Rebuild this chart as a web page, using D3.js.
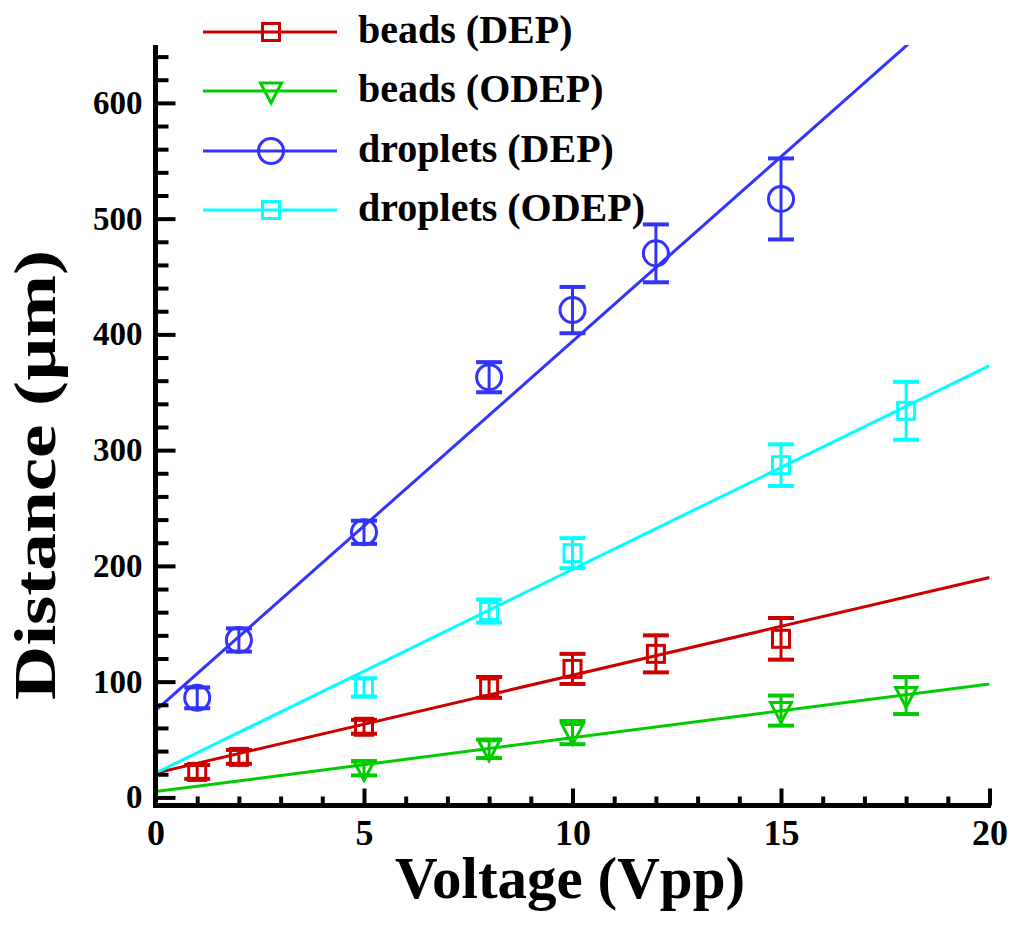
<!DOCTYPE html>
<html><head><meta charset="utf-8">
<script src="https://cdn.jsdelivr.net/npm/d3@7"></script>
<style>body{margin:0;background:#fff}svg{display:block}</style>
</head><body><svg id="c" width="1024" height="926"></svg>
<script>
// ---- data ----
const seriesNames = ["beads (DEP)", "beads (ODEP)", "droplets (DEP)", "droplets (ODEP)"];
const beadsDepX = [1, 2, 5, 8, 10, 12, 15];
const beadsDepY = [22, 35, 61, 95, 111, 124, 137];
const beadsDepErr = [6, 6, 6, 9, 13, 16, 18];
const beadsOdepX = [5, 8, 10, 15, 18];
const beadsOdepY = [25, 42, 56, 75, 88];
const beadsOdepErr = [6, 8, 10, 13, 16];
const dropDepX = [1, 2, 5, 8, 10, 12, 15];
const dropDepY = [86, 136, 229, 363, 421, 470, 517];
const dropDepErr = [9, 10, 10, 13, 20, 25, 35];
const dropOdepX = [5, 8, 10, 15, 18];
const dropOdepY = [95, 161, 211, 287, 334];
const dropOdepErr = [8, 10, 13, 18, 25];
// linear fit lines: end points at x = 0 and x = 20
const fitX = [0, 20];
const beadsDepFit = [21, 190];
const beadsOdepFit = [5, 98];
const dropDepFit = [75, 713];
const dropOdepFit = [21, 373];
const xTicksMajor = [0, 5, 10, 15, 20];
const yTicksMajor = [0, 100, 200, 300, 400, 500, 600];

const colors = ["#CC0000", "#00CC00", "#3333FF", "#00FFFF"];
const shapes = ["square", "triangle", "circle", "square"];

const series = [
  {x: beadsDepX, y: beadsDepY, e: beadsDepErr, fit: beadsDepFit},
  {x: beadsOdepX, y: beadsOdepY, e: beadsOdepErr, fit: beadsOdepFit},
  {x: dropDepX, y: dropDepY, e: dropDepErr, fit: dropDepFit},
  {x: dropOdepX, y: dropOdepY, e: dropOdepErr, fit: dropOdepFit}
].map((s, i) => ({...s, name: seriesNames[i], color: colors[i], shape: shapes[i]}));

const FONT = "'Liberation Serif','Times New Roman',serif";
const svg = d3.select("#c");
const x = d3.scaleLinear().domain([0, 20]).range([155.5, 989.5]);
const y = d3.scaleLinear().domain([-7, 650]).range([805.5, 45]);

svg.append("defs").append("clipPath").attr("id", "plotclip")
  .append("rect")
  .attr("x", x(0)).attr("y", y(650))
  .attr("width", x(20) - x(0)).attr("height", y(-7) - y(650));

// fit lines
const plot = svg.append("g");
const fitG = plot.append("g").attr("clip-path", "url(#plotclip)");
series.forEach(s => {
  fitG.append("path")
    .datum(fitX.map((v, i) => [v, s.fit[i]]))
    .attr("d", d3.line().x(d => x(d[0])).y(d => y(d[1])))
    .attr("fill", "none").attr("stroke", s.color).attr("stroke-width", 3);
});

function marker(g, shape, cx, cy, color) {
  if (shape === "square") {
    g.append("rect").attr("x", cx - 8.5).attr("y", cy - 8.5)
      .attr("width", 17).attr("height", 17)
      .attr("fill", "none").attr("stroke", color).attr("stroke-width", 3);
  } else if (shape === "circle") {
    g.append("circle").attr("cx", cx).attr("cy", cy).attr("r", 12.5)
      .attr("fill", "none").attr("stroke", color).attr("stroke-width", 3);
  } else {
    g.append("path")
      .attr("d", `M${cx - 10.5},${cy - 8}L${cx + 10.5},${cy - 8}L${cx},${cy + 12}Z`)
      .attr("fill", "none").attr("stroke", color).attr("stroke-width", 3)
      .attr("stroke-linejoin", "miter");
  }
}

// error bars + markers
series.forEach(s => {
  const g = plot.append("g");
  s.x.forEach((xv, i) => {
    const cx = x(xv), cy = y(s.y[i]);
    const yt = y(s.y[i] + s.e[i]), yb = y(s.y[i] - s.e[i]);
    g.append("line").attr("x1", cx).attr("x2", cx).attr("y1", yt).attr("y2", yb)
      .attr("stroke", s.color).attr("stroke-width", 3);
    [yt, yb].forEach(yy => g.append("line")
      .attr("x1", cx - 13).attr("x2", cx + 13).attr("y1", yy).attr("y2", yy)
      .attr("stroke", s.color).attr("stroke-width", 4));
    marker(g, s.shape, cx, cy, s.color);
  });
});

// axes
const yMinor = d3.range(0, 641, 20).filter(v => v % 100 !== 0);
const xMinor = d3.range(0, 21, 1).filter(v => v % 5 !== 0);

const yAx = svg.append("g").attr("transform", `translate(${x(0)},0)`);
yAx.call(d3.axisLeft(y).tickValues(yTicksMajor).tickSizeInner(-20).tickSizeOuter(0).tickPadding(13).tickFormat(d3.format("d")));
yAx.append("g").call(d3.axisLeft(y).tickValues(yMinor).tickSizeInner(-13).tickSizeOuter(0).tickFormat(""));
const xAx = svg.append("g").attr("transform", `translate(0,${y(-7)})`);
xAx.call(d3.axisBottom(x).tickValues(xTicksMajor).tickSizeInner(-17).tickSizeOuter(0).tickPadding(14).tickFormat(d3.format("d")));
xAx.append("g").call(d3.axisBottom(x).tickValues(xMinor).tickSizeInner(-9).tickSizeOuter(0).tickFormat(""));
svg.selectAll(".domain").remove();
svg.selectAll(".tick line").attr("stroke", "#000").attr("stroke-width", 4);
yAx.selectAll(".tick text").attr("font-family", FONT).attr("font-weight", "bold")
  .attr("font-size", 33).attr("fill", "#000");
xAx.selectAll(".tick text").attr("font-family", FONT).attr("font-weight", "bold")
  .attr("font-size", 36).attr("fill", "#000");
// axis lines
svg.append("line").attr("x1", x(0)).attr("x2", x(0)).attr("y1", y(650)).attr("y2", y(-7) + 2.5)
  .attr("stroke", "#000").attr("stroke-width", 5);
svg.append("line").attr("x1", x(0) - 2.5).attr("x2", x(20) + 1.5).attr("y1", y(-7)).attr("y2", y(-7))
  .attr("stroke", "#000").attr("stroke-width", 5);

// axis titles
svg.append("text").text("Voltage (Vpp)")
  .attr("x", 570).attr("y", 898).attr("text-anchor", "middle")
  .attr("font-family", FONT).attr("font-weight", "bold").attr("font-size", 59).attr("fill", "#000");
svg.append("text").text("Distance (µm)")
  .attr("transform", "translate(55,475) rotate(-90)").attr("text-anchor", "middle")
  .attr("textLength", 450).attr("lengthAdjust", "spacingAndGlyphs")
  .attr("font-family", FONT).attr("font-weight", "bold").attr("font-size", 60).attr("fill", "#000");

// legend
const legRows = [32, 91, 151, 210];
const leg = svg.append("g");
series.forEach((s, i) => {
  const ly = legRows[i];
  leg.append("line").attr("x1", 203).attr("x2", 337).attr("y1", ly).attr("y2", ly)
    .attr("stroke", s.color).attr("stroke-width", 3);
  marker(leg, s.shape, 271, ly, s.color);
  leg.append("text").text(s.name).attr("x", 358).attr("y", ly + 11)
    .attr("font-family", FONT).attr("font-weight", "bold").attr("font-size", 40).attr("fill", "#000");
});
</script></body></html>
